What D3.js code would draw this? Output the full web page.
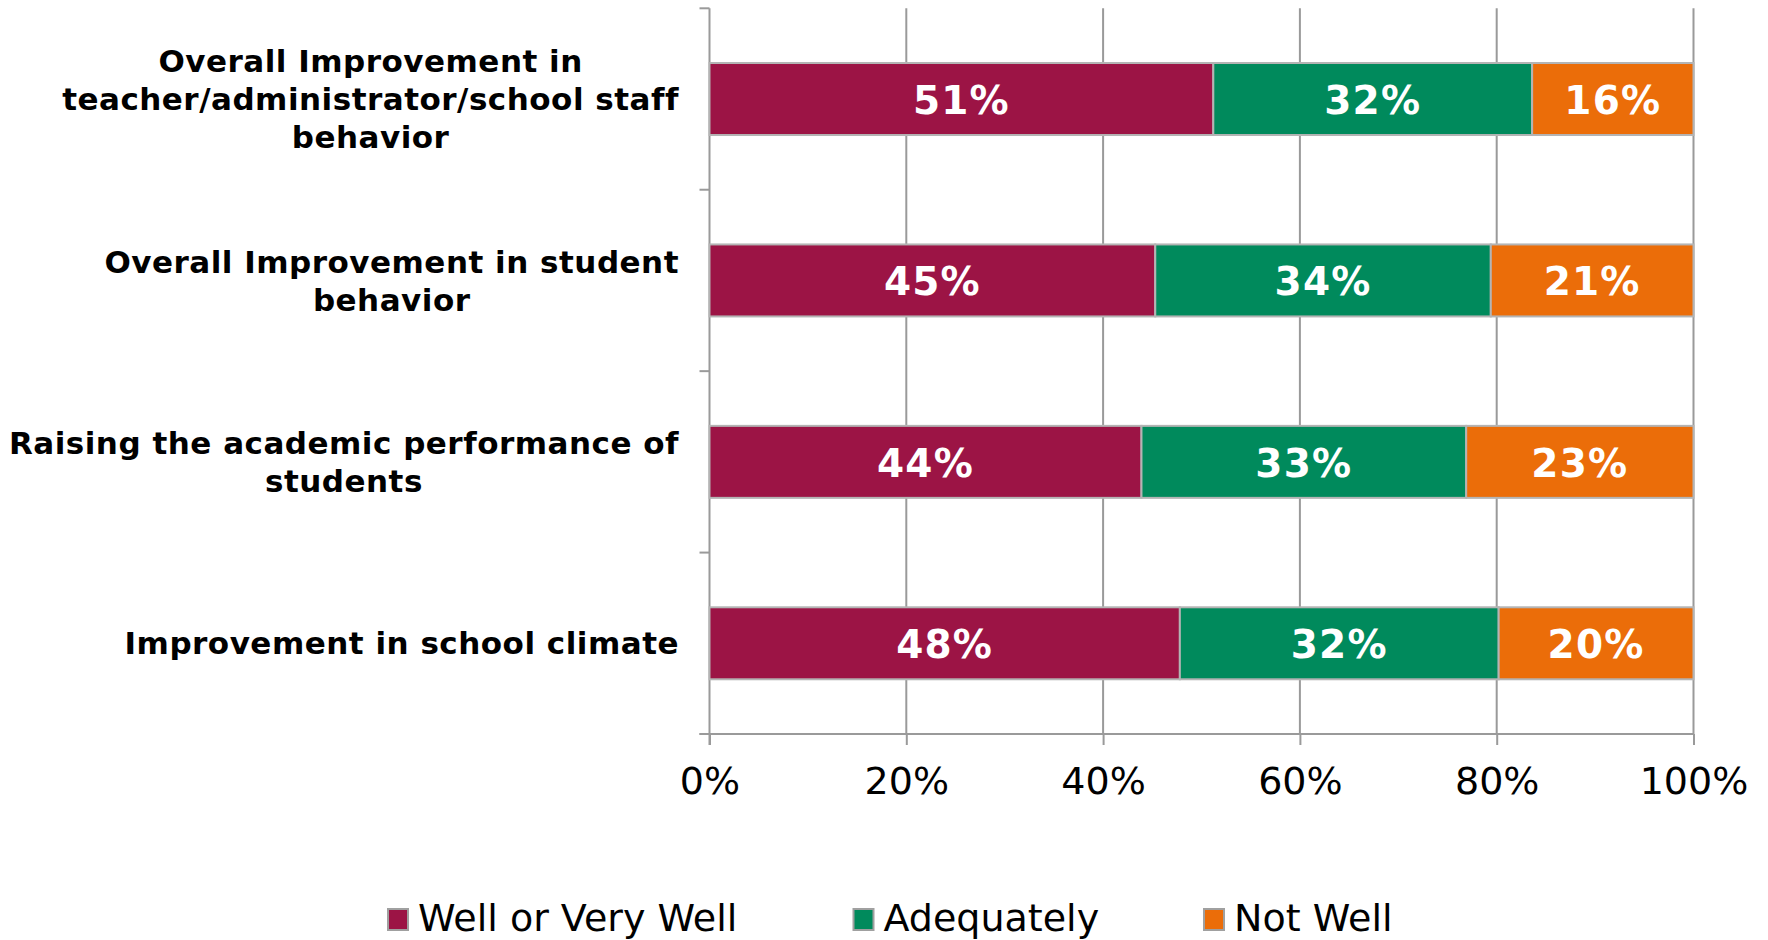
<!DOCTYPE html>
<html>
<head>
<meta charset="utf-8">
<script src="https://cdn.jsdelivr.net/npm/d3@7"></script>
<style>
  html, body { margin: 0; padding: 0; background: #fff; }
  svg { display: block; }
  text { font-family: "DejaVu Sans", Verdana, sans-serif; }
</style>
</head>
<body>
<svg id="chart" width="1768" height="940"></svg>
<script>
// ---- data ----
const categories = [
  ["Overall Improvement in", "teacher/administrator/school staff", "behavior"],
  ["Overall Improvement in student", "behavior"],
  ["Raising the academic performance of", "students"],
  ["Improvement in school climate"]
];
const seriesNames = ["Well or Very Well", "Adequately", "Not Well"];
const wellValues = [51.2, 45.3, 43.9, 47.8];
const adequateValues = [32.4, 34.1, 33.0, 32.4];
const notWellValues = [16.4, 20.6, 23.1, 19.8];
const xTicks = [0, 20, 40, 60, 80, 100];
const seriesColors = ["#9C1445", "#008A5C", "#EB6D09"];

// ---- layout ----
const svg = d3.select("#chart");
const pL = 709.5, pR = 1693.5, pT = 8.3, pB = 734;

const x = d3.scaleLinear().domain([0, 100]).range([pL, pR]);
const y = d3.scaleBand().domain(d3.range(categories.length)).range([pT, pB])
  .paddingInner(0.6).paddingOuter(0.3);

const rows = categories.map((c, i) => ({
  i, vals: [wellValues[i], adequateValues[i], notWellValues[i]]
}));

// gridlines
svg.append("g").selectAll("line").data(xTicks.filter(t => t > 0)).join("line")
  .attr("x1", d => x(d)).attr("x2", d => x(d))
  .attr("y1", pT).attr("y2", pB)
  .attr("stroke", "#9a9a9a").attr("stroke-width", 2);

// bottom axis
const xAxis = d3.axisBottom(x).tickValues(xTicks).tickFormat(d => d + "%").tickSize(11).tickPadding(22);
const gx = svg.append("g").attr("transform", `translate(0,${pB})`).call(xAxis);
gx.select(".domain").attr("stroke", "#9a9a9a").attr("stroke-width", 2)
  .attr("d", `M${pL - 10},0H${pR}`);
gx.selectAll(".tick line").attr("stroke", "#9a9a9a").attr("stroke-width", 2);
gx.selectAll(".tick text").attr("font-size", 38).attr("fill", "#000")
  .attr("font-family", "DejaVu Sans, Verdana, sans-serif");

// left axis line + ticks at band boundaries
const step = (pB - pT) / categories.length;
const yBounds = d3.range(categories.length + 1).map(k => pT + k * step);
svg.append("line").attr("x1", pL).attr("x2", pL).attr("y1", pT).attr("y2", pB + 11)
  .attr("stroke", "#9a9a9a").attr("stroke-width", 2);
svg.append("g").selectAll("line").data(yBounds).join("line")
  .attr("x1", pL - 10).attr("x2", pL).attr("y1", d => d).attr("y2", d => d)
  .attr("stroke", "#9a9a9a").attr("stroke-width", 2);

// bars
const stackRows = rows.map(r => {
  let acc = 0;
  return r.vals.map((v, s) => { const o = { i: r.i, s, v, x0: acc, x1: acc + v }; acc += v; return o; });
}).flat();

const barH = 72;
svg.append("g").selectAll("rect").data(stackRows).join("rect")
  .attr("x", d => x(d.x0)).attr("width", d => x(d.x1) - x(d.x0))
  .attr("y", d => y(d.i) + y.bandwidth() / 2 - barH / 2).attr("height", barH)
  .attr("fill", d => seriesColors[d.s])
  .attr("stroke", "#b4b4b4").attr("stroke-width", 2);

svg.append("g").selectAll("text").data(stackRows).join("text")
  .attr("x", d => (x(d.x0) + x(d.x1)) / 2)
  .attr("y", d => y(d.i) + y.bandwidth() / 2 + 1)
  .attr("dy", "0.36em")
  .attr("text-anchor", "middle")
  .attr("font-size", 39).attr("letter-spacing", 1.2).attr("font-weight", "bold").attr("fill", "#fff")
  .text(d => Math.round(d.v) + "%");

// category labels (block right-aligned, lines centered within block)
const labelRight = 679, lineH = 38, catFont = 31;
categories.forEach((lines, i) => {
  const g = svg.append("g");
  const cy = y(i) + y.bandwidth() / 2;
  const texts = lines.map((ln, k) => g.append("text")
    .attr("font-size", catFont).attr("letter-spacing", 0.5).attr("font-weight", "bold").attr("fill", "#000")
    .attr("text-anchor", "middle")
    .attr("y", cy + (k - (lines.length - 1) / 2) * lineH)
    .attr("dy", "0.36em")
    .text(ln));
  const maxW = d3.max(texts, t => t.node().getComputedTextLength());
  texts.forEach(t => t.attr("x", labelRight - maxW / 2));
});

// legend
const legendMarkX = [388, 853.5, 1204];
const lg = svg.append("g");
seriesNames.forEach((n, s) => {
  lg.append("rect").attr("x", legendMarkX[s]).attr("y", 909).attr("width", 20).attr("height", 21)
    .attr("fill", seriesColors[s]).attr("stroke", "#a0a0a0").attr("stroke-width", 2);
  lg.append("text").attr("x", legendMarkX[s] + 30).attr("y", 931)
    .attr("font-size", 38).attr("fill", "#000").text(n);
});
</script>
</body>
</html>
